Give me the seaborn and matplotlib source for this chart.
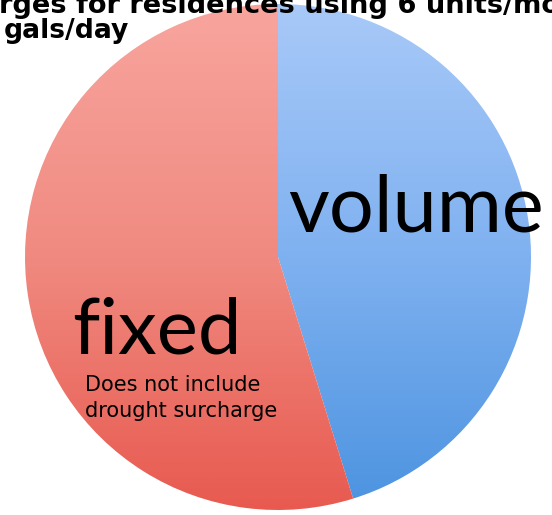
import matplotlib
matplotlib.use("Agg")
import matplotlib.pyplot as plt
import numpy as np
import seaborn as sns

# Share of the monthly charge for a residence using 6 units/month
categories = ["volume", "fixed"]
shares = [45.2, 54.8]

title_line1 = "rges for residences using 6 units/mo"
title_line2 = "gals/day"
note_lines = ["Does not include", "drought surcharge"]

# top-to-bottom shading of each slice
slice_shades = {
    "volume": ["#a8c9f8", "#7fb1f0", "#4c93e0"],
    "fixed": ["#f8a59e", "#f08a80", "#e85a50"],
}

sns.set_theme(style="white")
plt.rcParams["font.family"] = ["DejaVu Sans"]

W, H = 552, 515
fig = plt.figure(figsize=(W / 100, H / 100), dpi=100)
fig.patch.set_facecolor("white")

cx, cy, r = 278, 257, 253
ax = fig.add_axes([(cx - r) / W, (H - cy - r) / H, 2 * r / W, 2 * r / H])

wedges, _ = ax.pie(shares, startangle=90, counterclock=False, radius=1.0,
                   wedgeprops=dict(linewidth=0))
ax.set_xlim(-1, 1)
ax.set_ylim(-1, 1)
ax.set_aspect("equal")
ax.axis("off")

grad = np.linspace(0, 1, 256).reshape(-1, 1)
for wedge, name in zip(wedges, categories):
    cmap = sns.blend_palette(slice_shades[name], as_cmap=True)
    wedge.set_facecolor("none")
    im = ax.imshow(grad, cmap=cmap, extent=(-1, 1, -1, 1), origin="upper",
                   aspect="auto", interpolation="bicubic", zorder=1)
    im.set_clip_path(wedge)


def put(x, y, s, **kw):
    fig.text(x / W, 1 - y / H, s, va="baseline", ha="left", **kw)


put(-1, 13, title_line1, fontsize=19.6, fontweight="bold", color="black")
put(4, 38, title_line2, fontsize=19.2, fontweight="bold", color="black")

put(288, 232, categories[0], fontsize=57, family=["Lato", "DejaVu Sans"], color="black")
put(72, 353, categories[1], fontsize=56, family=["Lato", "DejaVu Sans"], color="black")

put(85, 391, note_lines[0], fontsize=15, color="black")
put(85, 417, note_lines[1], fontsize=15, color="black")

fig.savefig("out.png", dpi=100, facecolor="white")
